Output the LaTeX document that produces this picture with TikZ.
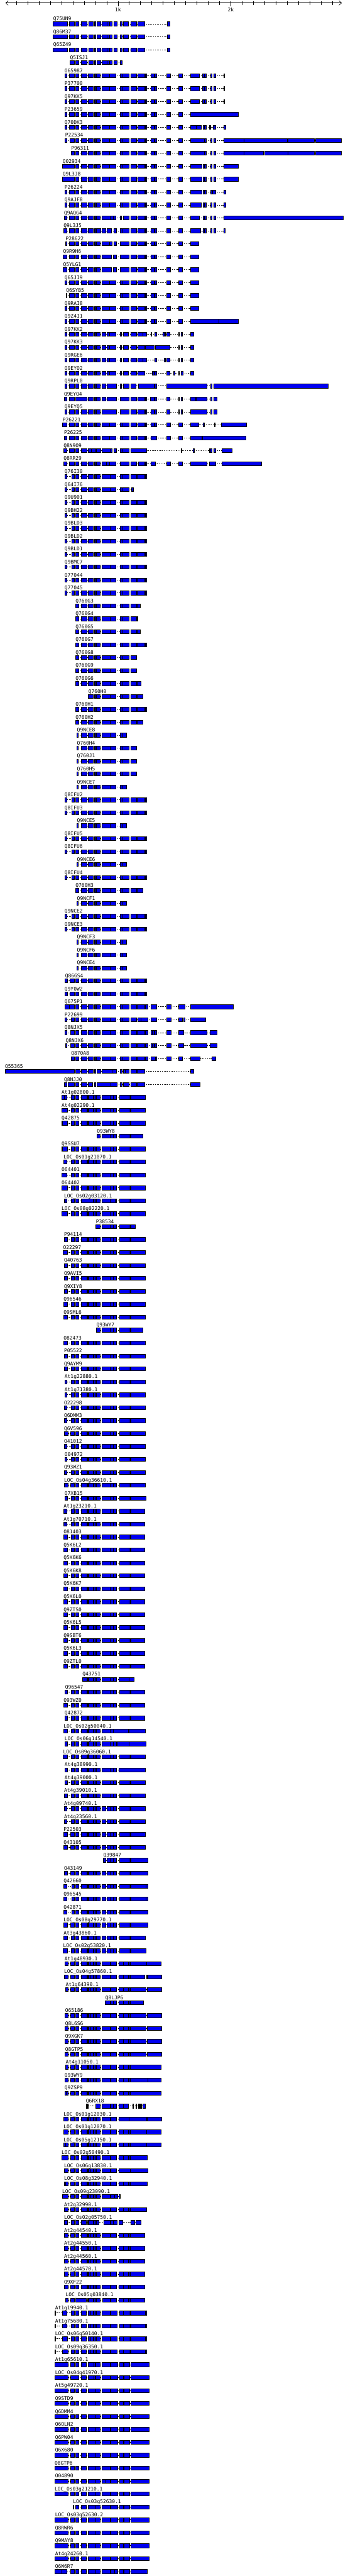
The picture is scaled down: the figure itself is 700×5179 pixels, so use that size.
\documentclass[tikz,border=0pt]{standalone}
\usepackage{fontspec}
\setmonofont{DejaVu Sans Mono}
\usetikzlibrary{arrows.meta}
\definecolor{exonblue}{RGB}{0,0,240}
\tikzset{
  exon/.style={fill=exonblue, draw=black, line width=0.8pt},
  intron/.style={draw=black, line width=0.8pt, dash pattern=on 1.5pt off 2pt},
  lbl/.style={anchor=base west, inner sep=0pt, font=\ttfamily\fontsize{10}{12}\selectfont},
  ticklbl/.style={anchor=base, inner sep=0pt, font=\ttfamily\fontsize{10}{12}\selectfont},
  axisline/.style={draw=black, line width=0.8pt},
}
\def\getfirst#1/#2,#3\relax{#1}
\newcommand\trk[3]{%
  \pgfmathtruncatemacro\yc{48+26*#1}%
  \edef\segs{#3}%
  \edef\fx{\expandafter\getfirst\segs,\relax}%
  \node[lbl] (l#1) at ({\fx},{-\yc+6.5}) {#2};%
  \gdef\prevend{}%
  \foreach \a/\b in \segs {%
    \ifx\prevend\empty\else
      \draw[intron] (\prevend,-\yc) -- (\a,-\yc);%
    \fi
    \draw[exon] (\a,{-\yc-4}) rectangle (\b,{-\yc+4});%
    \xdef\prevend{\b}%
  }%
}
\def\TA{152/158,164/175,178/187,190/192,194/202,205/221,221/233,242/247,247/259,264/275,277/291,293/295,304/310,311/315,335/343,359/367}
\def\QS{107/136,139/149,152/158,164/175,179/187,190/192,195/203,205/215,215/221,221/225,229/235,242/246,248/258,264/275,277/291}
\def\PB{152/158,164/175,178/187,190/192,194/202,205/222,222/233,242/247,247/259}
\def\PF{130/135,145/149,\PB,264/275,276/291,293/295}
\def\NCE{155/157,164/175,178/187,190/192,194/202,205/222,222/233,242/247,247/254}
\def\NCH{155/157,164/175,178/187,190/192,194/202,205/222,222/233,242/247,247/259,264/275}
\def\KK{130/134,140/149,152/158,164/175,178/187,190/192,194/202,205/213,215/221,221/233,242/245,248/258,264/275}
\def\PLah{152/158,164/175,176/178,179/188,189/193,194/202,205/222,222/228,228/234,241/259,260/262}
\def\PLa{\PLah,263/293}
\def\PLbh{152/158,164/175,176/178,179/188,189/193,194/202,205/213,215/222,222/228,228/234,241/259,260/262}
\def\PLb{\PLbh,263/292}
\def\PLc{152/158,164/175,176/178,179/182,182/188,189/193,194/202,205/222,223/234,240/248,248/258,260/262}
\def\PLe{152/158,163/174,177/192,193/202,205/222,223/237,241/248,249/261,263/300}
\def\PLg{152/158,164/174,177/182,182/188,189/193,194/202,205/222,223/235,241/248,248/260,260/262,263/293,293/295}
\def\TOPE{130/134,140/149,\TA,383/401,408/411,411/415,424/426,430/434,450/452}
\begin{document}
\begin{tikzpicture}[x=1pt,y=1pt]
\fill[white] (0,0) rectangle (700,-5179);
\useasboundingbox (0,0) rectangle (700,-5179);
% axis
\draw[axisline,{Straight Barb[length=5pt,width=9pt]}-{Straight Barb[length=5pt,width=9pt]}] (11,-6) -- (688,-6);
\foreach \k in {1,...,29} {\draw[axisline] ({10.5+22.7*\k},-2.5) -- ({10.5+22.7*\k},-9.5);}
\draw[axisline] (237.5,-2.5) -- (237.5,-13);
\draw[axisline] (464.5,-2.5) -- (464.5,-13);
\node[ticklbl] (k1) at (237.5,-23) {1k};
\node[ticklbl] (k2) at (464.5,-23) {2k};
% tracks
\trk{0}{Q75UN9}{\QS,337/342}
\trk{1}{Q86M37}{\QS,337/342}
\trk{2}{Q65Z49}{\QS,337/342}
\trk{3}{Q5ISJ1}{141/149,152/158,164/175,179/187,190/192,195/203,205/215,215/221,221/225,229/235,242/246}
\trk{4}{O65987}{\TOPE}
\trk{5}{P37700}{\TOPE}
\trk{6}{Q97KK5}{\TOPE}
\trk{7}{P23659}{130/134,140/149,\TA,383/479}
\trk{8}{Q70DK3}{130/134,140/149,\TA,383/395,395/405,409/411,411/415,421/422,423/424,429/434,450/454}
\trk{9}{P22534}{131/134,141/149,\TA,383/411,411/415,424/426,430/434,450/491,491/578,579/633,635/687}
\trk{10}{P96311}{143/149,\TA,383/411,411/415,424/426,430/434,450/491,491/530,533/579,579/633,635/687}
\trk{11}{Q02934}{126/149,\TA,383/406,409/411,411/415,424/426,430/434,450/479}
\trk{12}{Q9L3J8}{126/149,\TA,383/406,409/411,411/415,424/426,430/434,450/480}
\trk{13}{P26224}{130/134,140/149,\TA,383/406,409/411,411/415,424/426,426/428,428/434,450/454}
\trk{14}{Q9AJF8}{130/134,140/149,\TA,383/405,409/411,411/415,424/426,430/434,450/454}
\trk{15}{Q9AQG4}{129/135,140/149,152/158,164/175,178/187,190/192,194/202,205/222,222/228,228/233,242/245,248/259,264/275,277/291,293/295,304/310,311/315,335/343,359/367,383/401,409/411,411/415,424/426,430/434,450/691}
\trk{16}{Q9L3J5}{128/135,139/149,152/158,164/175,178/187,190/192,194/203,205/213,215/224,229/234,242/247,247/259,264/275,277/291,293/295,304/310,311/315,335/343,359/367,383/404,409/411,411/415,424/426,430/434,450/453}
\trk{17}{P28622}{132/134,140/149,152/158,164/175,178/187,190/192,194/202,205/221,221/225,229/234,242/259,264/275,277/291,293/295,304/310,311/315,335/343,359/367,383/400}
\trk{18}{Q9R9H6}{127/134,140/149,152/158,164/175,178/187,190/192,194/202,205/224,228/234,242/259,264/275,277/291,293/295,304/310,311/315,335/343,359/367,383/400}
\trk{19}{Q5YLG1}{127/134,140/149,152/158,164/175,178/187,190/192,194/202,205/224,228/234,242/259,264/275,277/291,293/295,304/310,311/315,335/343,359/367,383/400}
\trk{20}{Q65JI9}{130/134,140/149,\TA,383/400}
\trk{21}{Q6SYB5}{133/134,140/149,\TA,383/400}
\trk{22}{Q9RAI8}{130/134,140/149,\TA,383/400}
\trk{23}{Q9Z4I1}{130/134,140/149,\TA,383/440,440/479}
\trk{24}{Q97KK2}{\KK,277/288,288/295,304/305,311/315,328/330,331/333,335/342,359/361,365/367,384/390}
\trk{25}{Q97KK3}{\KK,277/291,292/310,313/342,359/361,365/367,384/390}
\trk{26}{Q9RGE6}{\KK,277/288,288/295,311/315,330/333,335/342,359/361,365/367,384/390}
\trk{27}{Q9EYQ2}{\KK,277/291,306/308,308/310,311/315,335/342,350/352,359/361,365/368,384/390}
\trk{28}{Q9RPL0}{130/134,140/149,152/158,164/175,178/187,190/192,194/202,205/213,215/234,242/245,248/259,264/274,278/310,311/315,335/417,424/426,430/661}
\trk{29}{Q9EYQ4}{129/134,140/149,152/175,178/187,190/192,194/202,205/213,215/234,242/259,264/275,277/291,293/295,303/310,311/315,335/342,359/361,365/367,384/393,395/417,424/426,430/436}
\trk{30}{Q9EYQ5}{130/134,140/149,152/158,164/175,178/187,190/192,194/202,205/234,242/259,264/275,277/291,293/295,304/310,311/315,335/342,359/361,365/367,384/417,424/426,430/437}
\trk{31}{P26221}{126/134,140/149,152/158,164/175,178/187,190/192,192/194,194/202,205/221,221/233,242/247,247/259,264/275,277/291,293/295,304/310,311/315,335/343,359/367,383/400,409/411,431/433,446/496}
\trk{32}{P26225}{129/134,140/149,152/158,164/175,178/187,190/192,192/194,194/202,205/221,221/233,242/247,247/259,264/275,277/291,293/295,304/315,335/343,359/367,383/406,408/495}
\trk{33}{Q8N9O9}{128/135,140/149,152/158,164/175,178/184,184/192,194/203,205/222,222/225,229/234,242/247,247/259,264/295,364/366,388/391,422/424,424/426,430/434,447/467}
\trk{34}{Q8RR29}{128/135,140/149,152/158,164/175,178/187,190/192,194/202,205/214,214/221,221/233,242/259,264/275,278/291,293/295,304/313,335/343,360/367,383/417,421/434,447/526}
\trk{35}{Q76I30}{\PF}
\trk{36}{Q64I76}{130/135,145/149,\PB,265/269}
\trk{37}{Q9U901}{\PF}
\trk{38}{Q9BH22}{\PF}
\trk{39}{Q9BLD3}{\PF}
\trk{40}{Q9BLD2}{\PF}
\trk{41}{Q9BLD1}{\PF}
\trk{42}{Q9BMC7}{\PF}
\trk{43}{Q77044}{\PF}
\trk{44}{Q77045}{\PF}
\trk{45}{Q760G3}{\PB,264/275,276/282}
\trk{46}{Q760G4}{\PB,264/275,276/277}
\trk{47}{Q760G5}{\PB,264/275,276/282}
\trk{48}{Q760G7}{\PB,264/275,276/291,293/295}
\trk{49}{Q760G8}{\PB,264/275}
\trk{50}{Q760G9}{\PB,264/275}
\trk{51}{Q760G6}{\PB,264/275,276/284}
\trk{52}{Q760H0}{178/187,190/192,194/202,205/222,222/233,242/247,247/259,264/275,276/287}
\trk{53}{Q760H1}{\PB,264/275,276/291,293/295}
\trk{54}{Q760H2}{\PB,264/275,276/287}
\trk{55}{Q9NCE8}{\NCE}
\trk{56}{Q760H4}{\NCH}
\trk{57}{Q760J1}{\NCH}
\trk{58}{Q760H5}{\NCH}
\trk{59}{Q9NCE7}{\NCE}
\trk{60}{Q8IFU2}{\PF}
\trk{61}{Q8IFU3}{\PF}
\trk{62}{Q9NCE5}{\NCE}
\trk{63}{Q8IFU5}{\PF}
\trk{64}{Q8IFU6}{\PF}
\trk{65}{Q9NCE6}{\NCE}
\trk{66}{Q8IFU4}{\PF}
\trk{67}{Q760H3}{\PB,264/275,276/287}
\trk{68}{Q9NCF1}{\NCE}
\trk{69}{Q9NCE2}{\PF}
\trk{70}{Q9NCE3}{\PF}
\trk{71}{Q9NCF3}{\NCE}
\trk{72}{Q9NCF6}{\NCE}
\trk{73}{Q9NCE4}{\NCE}
\trk{74}{Q86GS4}{131/136,141/149,\PB,264/275,276/291,293/295}
\trk{75}{Q9Y0W2}{130/136,141/149,\PB,264/275,276/291,293/295}
\trk{76}{Q675P1}{130/139,139/149,\PB,264/275,276/291,293/297,304/315,335/344,359/372,383/469}
\trk{77}{P22699}{130/135,143/149,\PB,264/275,277/283,283/297,304/315,335/344,359/367,370/372,383/414}
\trk{78}{Q8NJX5}{130/134,142/149,\PB,264/275,276/291,293/297,304/307,307/310,311/315,335/344,359/370,383/417,423/436}
\trk{79}{Q8NJX6}{132/134,142/149,\PB,264/275,276/291,293/297,304/307,307/310,311/315,335/344,359/370,383/417,423/436}
\trk{80}{Q870A8}{143/149,\PB,264/275,276/291,293/297,304/313,313/315,335/344,359/367,383/403,427/434}
\trk{81}{Q55365}{10/149,152/161,164/175,178/187,190/192,195/203,205/225,225/234,242/246,248/252,252/259,264/275,276/291,383/390}
\trk{82}{Q8NJJ0}{129/134,137/149,152/158,164/175,178/186,190/192,195/223,223/235,242/246,248/260,264/275,276/291,383/402}
\trk{83}{At1g02800.1}{124/129,129/135,143/149,\PLa}
\trk{84}{At4g02290.1}{124/136,143/149,\PLa}
\trk{85}{Q42875}{124/126,126/136,143/149,\PLa}
\trk{86}{Q93WY8}{195/202,205/222,222/228,228/234,241/259,260/262,263/288}
\trk{87}{Q9SSU7}{124/126,126/136,143/149,\PLa}
\trk{88}{LOC\_Os01g21070.1}{128/135,143/149,\PLa}
\trk{89}{O64401}{124/135,143/149,\PLa}
\trk{90}{O64402}{124/136,143/149,\PLa}
\trk{91}{LOC\_Os02g03120.1}{129/131,131/134,143/149,152/158,164/188,189/193,194/202,205/222,222/232,232/234,241/259,260/262,263/293}
\trk{92}{LOC\_Os08g02220.1}{124/136,143/149,\PLa}
\trk{93}{P38534}{193/202,205/222,222/228,228/234,241/259,260/262,263/272}
\trk{94}{P94114}{129/136,143/149,\PLa}
\trk{95}{O22297}{127/136,143/149,\PLa}
\trk{96}{Q40763}{129/136,143/149,\PLa}
\trk{97}{Q9AVI5}{129/136,143/149,\PLa}
\trk{98}{Q9XIY8}{129/136,143/149,\PLa}
\trk{99}{Q96546}{128/136,143/149,\PLa}
\trk{100}{Q9SML6}{128/136,143/149,\PLa}
\trk{101}{Q93WY7}{194/202,205/222,222/228,228/234,241/259,260/262,263/288}
\trk{102}{O82473}{128/136,143/149,\PLa}
\trk{103}{P05522}{129/136,143/149,\PLa}
\trk{104}{Q9AYM9}{129/136,143/149,\PLa}
\trk{105}{At1g22880.1}{130/135,143/149,\PLa}
\trk{106}{At1g71380.1}{130/135,143/149,\PLa}
\trk{107}{O22298}{129/135,143/149,\PLa}
\trk{108}{Q6DMM3}{129/135,143/149,\PLa}
\trk{109}{Q6V596}{129/137,142/149,\PLa}
\trk{110}{Q41012}{129/135,143/149,\PLa}
\trk{111}{O04972}{130/135,143/149,\PLa}
\trk{112}{Q93WZ1}{129/135,143/149,\PLa}
\trk{113}{LOC\_Os04g36610.1}{129/137,142/149,\PLa}
\trk{114}{Q7XB15}{130/136,143/149,\PLah,263/294}
\trk{115}{At1g23210.1}{128/130,130/135,143/149,\PLah,263/291}
\trk{116}{At1g70710.1}{128/130,130/135,143/149,\PLah,263/291}
\trk{117}{O81403}{128/136,143/149,\PLah,263/291}
\trk{118}{Q5K6L2}{128/136,143/149,\PLah,263/291}
\trk{119}{Q5K6K6}{128/136,143/149,\PLah,263/291}
\trk{120}{Q5K6K8}{128/136,143/149,\PLah,263/291}
\trk{121}{Q5K6K7}{128/136,143/149,\PLah,263/291}
\trk{122}{Q5K6L0}{128/136,143/149,\PLah,263/291}
\trk{123}{Q9ZTS0}{128/136,143/149,\PLah,263/291}
\trk{124}{Q5K6L5}{128/136,143/149,\PLah,263/291}
\trk{125}{Q9SBT6}{128/136,143/149,\PLah,263/291}
\trk{126}{Q5K6L3}{128/136,143/149,\PLah,263/291}
\trk{127}{Q9ZTL0}{128/136,143/149,\PLah,263/291}
\trk{128}{Q43751}{166/175,176/178,179/188,189/193,194/202,205/222,222/228,228/234,240/259,260/270}
\trk{129}{Q96547}{131/136,143/149,\PLah,263/291}
\trk{130}{Q93WZ0}{128/136,143/149,\PLah,263/291}
\trk{131}{Q42872}{130/136,143/149,\PLah,263/291}
\trk{132}{LOC\_Os02g50040.1}{128/136,143/149,152/158,164/175,176/178,179/188,189/193,194/202,205/222,222/228,228/258,260/293}
\trk{133}{LOC\_Os06g14540.1}{130/136,143/149,152/158,164/175,176/178,179/188,189/193,194/202,205/222,222/228,228/234,236/259,260/294}
\trk{134}{LOC\_Os09g36060.1}{127/136,143/149,\PLah,263/292}
\trk{135}{At4g38990.1}{130/136,143/149,152/158,164/175,176/178,179/188,189/193,194/202,205/222,222/228,228/234,240/292}
\trk{136}{At4g39000.1}{130/136,143/149,\PLah,263/293}
\trk{137}{At4g39010.1}{129/136,143/149,\PLah,263/293}
\trk{138}{At4g09740.1}{129/135,143/149,\PLb}
\trk{139}{At4g23560.1}{129/135,143/149,\PLb}
\trk{140}{P22503}{128/136,142/149,\PLb}
\trk{141}{Q43105}{128/136,142/149,\PLb}
\trk{142}{Q39847}{208/213,215/222,222/228,228/234,241/259,260/262,263/297}
\trk{143}{Q43149}{129/136,142/149,\PLbh,263/297}
\trk{144}{Q42660}{128/134,145/149,\PLbh,263/294,294/298}
\trk{145}{Q96545}{128/134,145/149,\PLbh,263/294,294/298}
\trk{146}{Q42871}{128/134,145/149,\PLbh,263/297}
\trk{147}{LOC\_Os08g29770.1}{128/136,142/149,\PLbh,263/297}
\trk{148}{At3g43860.1}{128/136,143/149,\PLbh,263/292}
\trk{149}{LOC\_Os02g53820.1}{127/136,143/149,\PLbh,263/294}
\trk{150}{At1g48930.1}{130/137,142/149,\PLc,262/295,295/324}
\trk{151}{LOC\_Os04g57860.1}{129/137,142/149,\PLc,262/291,295/296,297/325}
\trk{152}{At1g64390.1}{132/137,142/149,\PLc,262/294,296/325}
\trk{153}{Q8LJP6}{212/222,223/228,228/234,240/248,248/258,260/262,262/289}
\trk{154}{O65186}{131/137,142/149,\PLc,262/294,296/325}
\trk{155}{Q8L6S6}{131/137,142/149,\PLc,262/294,296/325}
\trk{156}{Q9XGK7}{131/137,142/149,\PLc,262/294,296/325}
\trk{157}{Q8GTP5}{131/137,142/149,\PLc,262/294,296/325}
\trk{158}{At4g11050.1}{132/137,142/149,\PLc,262/324}
\trk{159}{Q93WY9}{130/137,142/149,\PLc,262/298,298/324}
\trk{160}{Q9ZSP9}{130/133,133/137,142/149,\PLc,262/324}
\trk{161}{Q6RX18}{173/174,175/176,177/178,193/202,205/222,223/228,228/234,240/248,248/258,267/268,274/275,279/280,281/282,284/285,288/292}
\trk{162}{LOC\_Os01g12030.1}{128/137,142/149,152/158,164/175,176/178,179/182,182/188,189/193,194/202,205/222,223/234,240/260,260/295,296/325}
\trk{163}{LOC\_Os01g12070.1}{128/137,142/149,\PLc,262/295,295/324}
\trk{164}{LOC\_Os05g12150.1}{128/132,132/137,142/149,\PLc,262/295,295/324}
\trk{165}{LOC\_Os02g50490.1}{124/137,142/149,\PLc,262/296}
\trk{166}{LOC\_Os06g13830.1}{129/137,142/149,152/158,164/175,176/178,179/182,182/188,189/193,194/202,205/222,223/234,240/262,262/297}
\trk{167}{LOC\_Os08g32940.1}{129/132,132/137,142/149,\PLc,262/296}
\trk{168}{LOC\_Os09g23090.1}{125/137,142/149,152/158,164/175,176/178,179/182,182/188,189/193,194/202,205/222,223/231,231/237,240/242}
\trk{169}{At2g32990.1}{129/137,142/149,\PLc,262/295}
\trk{170}{LOC\_Os02g05750.1}{129/136,143/149,152/158,164/174,176/178,179/188,189/193,194/199,209/222,223/228,228/235,240/247,263/271,274/283}
\trk{171}{At2g44540.1}{129/137,142/149,\PLc,262/291}
\trk{172}{At2g44550.1}{129/137,142/149,\PLc,262/291}
\trk{173}{At2g44560.1}{129/137,142/149,\PLc,262/291}
\trk{174}{At2g44570.1}{129/137,142/149,\PLc,262/291}
\trk{175}{Q9XF22}{129/137,142/149,\PLc,262/291}
\trk{176}{LOC\_Os05g03840.1}{132/137,142/149,152/174,176/178,179/188,189/193,194/202,206/222,223/234,240/248,248/258,260/262,262/291}
\trk{177}{At1g19940.1}{111/112,125/135,143/149,\PLg}
\trk{178}{At1g75680.1}{111/112,125/135,143/149,\PLg}
\trk{179}{LOC\_Os06g50140.1}{111/112,125/136,143/149,\PLg}
\trk{180}{LOC\_Os09g36350.1}{111/112,125/137,143/149,\PLg}
\trk{181}{At1g65610.1}{111/137,142/149,152/158,163/174,177/189,189/191,193/202,205/222,223/237,241/248,249/261,263/300}
\trk{182}{LOC\_Os04g41970.1}{111/137,142/158,163/174,177/189,189/191,193/202,205/222,223/237,241/248,249/261,263/300}
\trk{183}{At5g49720.1}{111/137,142/149,\PLe}
\trk{184}{Q9STD9}{111/137,142/149,\PLe}
\trk{185}{Q6DMM4}{111/137,142/149,\PLe}
\trk{186}{Q6QLN2}{111/137,142/149,\PLe}
\trk{187}{Q6PW04}{111/137,142/149,\PLe}
\trk{188}{Q6X680}{111/137,142/149,\PLe}
\trk{189}{Q8GTP6}{110/137,142/149,\PLe}
\trk{190}{O04890}{111/137,142/149,152/158,163/174,177/192,193/202,205/213,213/222,223/237,241/248,249/261,263/300}
\trk{191}{LOC\_Os03g21210.1}{110/137,142/149,\PLe}
\trk{192}{LOC\_Os03g52630.1}{147/148,152/158,163/174,177/192,193/202,205/222,223/237,241/248,249/261,263/300}
\trk{193}{LOC\_Os03g52630.2}{111/137,142/149,\PLe}
\trk{194}{Q8RWR6}{111/137,142/149,\PLe}
\trk{195}{Q9MAY8}{111/137,142/149,\PLe}
\trk{196}{At4g24260.1}{111/137,142/149,\PLe}
\trk{197}{Q6W6R7}{111/124,124/135,142/149,152/158,163/174,177/192,193/202,205/222,223/230,230/237,241/248,249/261,263/296}
\end{tikzpicture}
\end{document}
